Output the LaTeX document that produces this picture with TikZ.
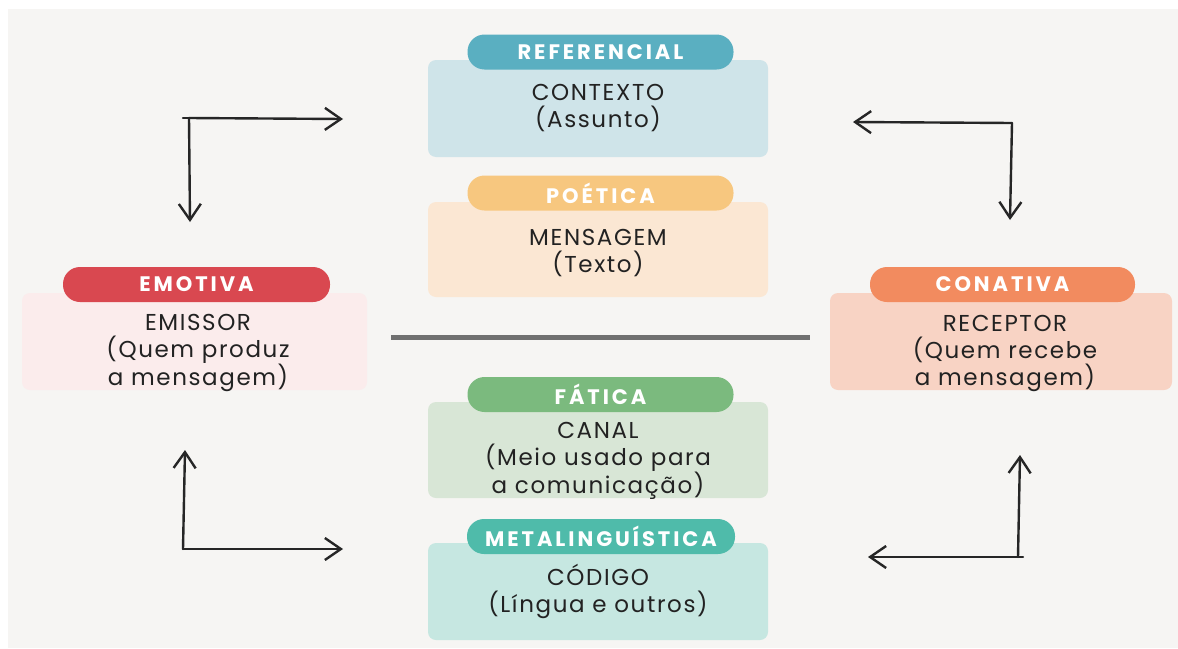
\documentclass[tikz,border=0pt]{standalone}
\usepackage{fontspec}
\setmainfont{Poppins}
\newfontfamily\hdrfont[LetterSpace=14]{Poppins}
\newfontfamily\bodyfont[LetterSpace=7]{Poppins}
\usetikzlibrary{arrows.meta}
\definecolor{bgc}{HTML}{F6F5F3}
\definecolor{txtc}{HTML}{222222}
\definecolor{linec}{HTML}{707070}
\definecolor{arrc}{HTML}{262626}
\definecolor{refP}{HTML}{5AAFC1}\definecolor{refB}{HTML}{CFE4E9}
\definecolor{poeP}{HTML}{F7C77F}\definecolor{poeB}{HTML}{FBE7D3}
\definecolor{emoP}{HTML}{D94850}\definecolor{emoB}{HTML}{FBECEC}
\definecolor{conP}{HTML}{F28B5F}\definecolor{conB}{HTML}{F8D3C4}
\definecolor{fatP}{HTML}{7BBA7E}\definecolor{fatB}{HTML}{D8E6D6}
\definecolor{metP}{HTML}{4FBBAA}\definecolor{metB}{HTML}{C6E7E1}
\tikzset{
  boxnode/.style={rounded corners=8pt, inner sep=0pt, minimum width=340pt, minimum height=97pt},
  pill/.style={rounded corners=17pt, inner sep=0pt, minimum width=266pt, minimum height=35pt,
     text=white, font=\hdrfont\bfseries\fontsize{21}{22}\selectfont},
  body/.style={align=center, text=txtc, inner sep=0pt, font=\bodyfont\fontsize{23}{27}\selectfont},
  arr/.style={draw=arrc, line width=2.4pt, line cap=round},
  arrh/.style={arr, -{Straight Barb[length=16pt, width=22pt, line width=2.4pt]}}
}
\begin{document}
\begin{tikzpicture}[x=1pt,y=-1pt]
\useasboundingbox (0,0) rectangle (1178,648);
\fill[white] (0,0) rectangle (1178,648);
\fill[bgc] (8,9) rectangle (1178,648);

% boxes
\node[boxnode, fill=refB] (refbox) at (598,108.5) {};
\node[pill, fill=refP] (refpill) at (600.5,52) {REFERENCIAL};
\node[body] (reftxt) at (598,108) {CONTEXTO\\(Assunto)};

\node[boxnode, fill=poeB, minimum height=95pt] (poebox) at (598,249.5) {};
\node[pill, fill=poeP] (poepill) at (600.5,193) {POÉTICA};
\node[body] (poetxt) at (598,253) {MENSAGEM\\(Texto)};

\node[boxnode, fill=emoB, minimum width=345pt] (emobox) at (194.5,341.5) {};
\node[pill, fill=emoP, minimum width=267pt] (emopill) at (196.5,284.5) {EMOTIVA};
\node[body] (emotxt) at (198,353) {EMISSOR\\(Quem produz\\a mensagem)};

\node[boxnode, fill=conB, minimum width=342pt] (conbox) at (1001,341.5) {};
\node[pill, fill=conP, minimum width=265pt] (conpill) at (1002.5,284.5) {CONATIVA};
\node[body] (contxt) at (1005,353) {RECEPTOR\\(Quem recebe\\a mensagem)};

\node[boxnode, fill=fatB, minimum height=96pt] (fatbox) at (598,450) {};
\node[pill, fill=fatP] (fatpill) at (600.5,394.5) {FÁTICA};
\node[body] (fattxt) at (598,461) {CANAL\\(Meio usado para\\a comunicação)};

\node[boxnode, fill=metB] (metbox) at (598,591.5) {};
\node[pill, fill=metP, minimum width=268pt] (metpill) at (601,536.5) {METALINGUÍSTICA};
\node[body] (mettxt) at (598,591.5) {CÓDIGO\\(Língua e outros)};

% separator
\coordinate (sepL) at (391,337);
\coordinate (sepR) at (810,337);
\draw[linec, line width=5pt] (sepL) -- (sepR);

% arrows
\coordinate (c1) at (189,118);
\coordinate (c1h) at (343,119);
\coordinate (c1v) at (190,222);
\coordinate (c1s) at (183,118);
\draw[arr] (c1s) -- (c1);
\draw[arrh] (c1) -- (c1h);
\draw[arrh] (c1) -- (c1v);

\coordinate (c2) at (1012,123);
\coordinate (c2h) at (853,122);
\coordinate (c2v) at (1010,220);
\draw[arrh] (c2) -- (c2h);
\draw[arrh] (c2) -- (c2v);

\coordinate (c3) at (183,549);
\coordinate (c3h) at (343,549);
\coordinate (c3v) at (185,450);
\draw[arrh] (c3) -- (c3h);
\draw[arrh] (c3) -- (c3v);

\coordinate (c4) at (1018,557);
\coordinate (c4h) at (868,557);
\coordinate (c4v) at (1020,455);
\coordinate (c4s) at (1023,557);
\draw[arr] (c4) -- (c4s);
\draw[arrh] (c4) -- (c4h);
\draw[arrh] (c4) -- (c4v);
\end{tikzpicture}
\end{document}
